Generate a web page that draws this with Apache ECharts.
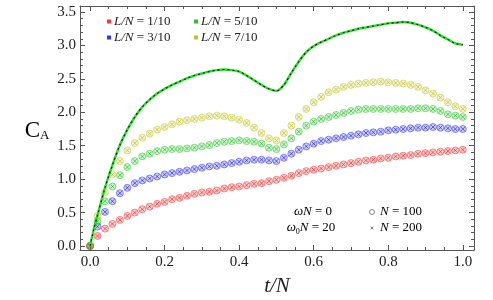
<!DOCTYPE html>
<html>
<head>
<meta charset="utf-8">
<script src="https://cdn.jsdelivr.net/npm/echarts@6/dist/echarts.min.js"></script>
<style>html,body{margin:0;padding:0;background:#fff;}#c{width:493px;height:300px;}</style>
</head>
<body>
<div id="c"></div>
<script>
// time axis t/N
var tValues = [0,0.02,0.04,0.06,0.08,0.10,0.12,0.14,0.16,0.18,0.20,0.22,0.24,0.26,0.28,0.30,0.32,0.34,0.36,0.38,0.40,0.42,0.44,0.46,0.48,0.50,0.52,0.54,0.56,0.58,0.60,0.62,0.64,0.66,0.68,0.70,0.72,0.74,0.76,0.78,0.80,0.82,0.84,0.86,0.88,0.90,0.92,0.94,0.96,0.98,1.00];
// C_A for L/N = 1/10, 3/10, 5/10, 7/10
var ln1 = [0,0.15,0.26,0.33,0.39,0.45,0.50,0.55,0.59,0.63,0.66,0.70,0.72,0.75,0.78,0.80,0.81,0.83,0.86,0.88,0.89,0.91,0.93,0.94,0.97,0.99,1.02,1.05,1.09,1.12,1.14,1.16,1.18,1.20,1.22,1.24,1.26,1.28,1.29,1.31,1.32,1.34,1.35,1.36,1.38,1.39,1.40,1.41,1.42,1.43,1.44];
var ln3 = [0,0.29,0.51,0.67,0.79,0.87,0.94,0.98,1.01,1.04,1.07,1.09,1.11,1.13,1.15,1.17,1.19,1.20,1.22,1.24,1.26,1.28,1.29,1.29,1.28,1.27,1.32,1.38,1.44,1.49,1.53,1.57,1.59,1.61,1.63,1.65,1.67,1.69,1.70,1.71,1.73,1.74,1.75,1.76,1.77,1.77,1.78,1.77,1.76,1.75,1.75];
var ln5 = [0,0.37,0.67,0.89,1.06,1.18,1.27,1.34,1.38,1.42,1.44,1.45,1.45,1.46,1.47,1.49,1.51,1.54,1.56,1.57,1.58,1.57,1.56,1.53,1.47,1.45,1.52,1.61,1.71,1.80,1.86,1.90,1.93,1.96,1.99,2.02,2.04,2.05,2.05,2.05,2.05,2.05,2.05,2.05,2.06,2.06,2.05,2.02,1.97,1.95,1.93];
var ln7 = [0,0.45,0.80,1.07,1.27,1.43,1.54,1.62,1.68,1.74,1.78,1.82,1.86,1.88,1.90,1.92,1.94,1.95,1.94,1.92,1.89,1.84,1.77,1.69,1.61,1.58,1.69,1.80,1.93,2.05,2.15,2.23,2.30,2.34,2.38,2.41,2.43,2.44,2.45,2.46,2.45,2.44,2.43,2.41,2.38,2.33,2.28,2.22,2.15,2.09,2.05];
// exact curve
var curveT = [0,0.01,0.02,0.04,0.06,0.08,0.10,0.12,0.14,0.16,0.18,0.20,0.22,0.24,0.26,0.28,0.30,0.32,0.34,0.36,0.38,0.40,0.42,0.44,0.46,0.48,0.50,0.52,0.54,0.56,0.58,0.60,0.62,0.64,0.66,0.68,0.70,0.72,0.74,0.76,0.78,0.80,0.82,0.84,0.86,0.88,0.90,0.92,0.94,0.96,0.98,1.00];
var curveV = [0,0.25,0.46,0.87,1.21,1.51,1.74,1.93,2.08,2.19,2.28,2.35,2.41,2.46,2.51,2.55,2.58,2.61,2.63,2.64,2.63,2.61,2.55,2.48,2.41,2.35,2.32,2.41,2.59,2.76,2.90,2.99,3.05,3.10,3.15,3.19,3.22,3.25,3.27,3.29,3.31,3.33,3.34,3.35,3.34,3.31,3.27,3.22,3.15,3.09,3.03,3.01];
var seriesNames = ['1/10','3/10','5/10','7/10'];
var xMajor = [0,0.2,0.4,0.6,0.8,1.0];
var xMinor = [0,0.05,0.1,0.15,0.2,0.25,0.3,0.35,0.4,0.45,0.5,0.55,0.6,0.65,0.7,0.75,0.8,0.85,0.9,0.95,1.0];
var yMajor = [0,0.5,1.0,1.5,2.0,2.5,3.0,3.5];
var yMinor = [0,0.1,0.2,0.3,0.4,0.5,0.6,0.7,0.8,0.9,1.0,1.1,1.2,1.3,1.4,1.5,1.6,1.7,1.8,1.9,2.0,2.1,2.2,2.3,2.4,2.5,2.6,2.7,2.8,2.9,3.0,3.1,3.2,3.3,3.4,3.5];

var rgb = [[255,0,0],[0,0,255],[0,185,0],[185,185,0]];
var legendCol = ['#ff0000','#0000ff','#00a800','#b0b000'];
var allVals = [ln1, ln3, ln5, ln7];
var FONT = 'Liberation Serif';
var frameCol = '#555';

function pairs(xs, ys){ return xs.map(function(x,i){ return [x, ys[i]]; }); }
function rgba(c,a){ return 'rgba('+c[0]+','+c[1]+','+c[2]+','+a+')'; }

var series = [];
allVals.forEach(function(vals, k){
  var name = 'L/N = ' + seriesNames[k];
  series.push({
    type:'scatter', name:name, data:pairs(tValues, vals), symbol:'circle', symbolSize:7,
    itemStyle:{color:rgba(rgb[k],0.22), borderColor:rgba(rgb[k],0.55), borderWidth:1},
    silent:true, z:2
  });
  series.push({
    type:'scatter', name:name, data:pairs(tValues, vals), symbol:'path://M0,0L10,10M10,0L0,10', symbolSize:4,
    itemStyle:{color:'rgba(0,0,0,0)', borderColor:rgba(rgb[k],0.75), borderWidth:1},
    silent:true, z:3
  });
});
series.push({type:'line', data:pairs(curveT, curveV), smooth:0.3, showSymbol:false, symbol:'none',
  lineStyle:{color:'#22e022', width:2.4}, silent:true, z:5});
series.push({type:'line', data:pairs(curveT, curveV), smooth:0.3, showSymbol:false, symbol:'none',
  lineStyle:{color:'#111', width:1.1, type:[2,3]}, silent:true, z:6});

function xAx(pos, vals, len, labels, line){
  return {type:'value', position:pos, min:-0.027, max:1.03, gridIndex:0,
    axisLine:{show:line, onZero:false, lineStyle:{color:frameCol, width:1}},
    axisTick:{show:true, inside:true, length:len, customValues:vals, lineStyle:{color:frameCol}},
    axisLabel:{show:labels, customValues:xMajor, margin:5, color:'#222', fontFamily:FONT, fontSize:15,
      formatter:function(v){return v.toFixed(1);}},
    splitLine:{show:false}};
}
function yAx(pos, vals, len, labels, line){
  return {type:'value', position:pos, min:-0.06, max:3.59, gridIndex:0,
    axisLine:{show:line, onZero:false, lineStyle:{color:frameCol, width:1}},
    axisTick:{show:true, inside:true, length:len, customValues:vals, lineStyle:{color:frameCol}},
    axisLabel:{show:labels, customValues:yMajor, margin:4, color:'#222', fontFamily:FONT, fontSize:15,
      formatter:function(v){return v.toFixed(1);}},
    splitLine:{show:false}};
}

var richL = {i:{fontStyle:'italic', fontFamily:FONT, fontSize:13, color:'#222'}, r:{fontFamily:FONT, fontSize:13, color:'#222'}};
function legendData(ks){
  return ks.map(function(k){ return {name:'L/N = '+seriesNames[k], itemStyle:{color:legendCol[k], borderWidth:0}}; });
}
function lg(left, ks){
  return {left:left, top:10, orient:'vertical', itemGap:3, itemWidth:4, itemHeight:4, icon:'rect',
    selectedMode:false, data:legendData(ks),
    formatter:function(n){ return '{i|L/N} {r|' + n.slice(4) + '}'; },
    textStyle:{fontFamily:FONT, fontSize:13, color:'#222', rich:richL, padding:[0,0,0,-2]}};
}

var tMain = {fontFamily:FONT, fontSize:13, fill:'#222'};
var chart = echarts.init(document.getElementById('c'), null, {renderer:'canvas'});
chart.setOption({
  animation:false,
  backgroundColor:'#fff',
  grid:{left:80, right:19, top:6, bottom:50},
  xAxis:[xAx('bottom', xMajor, 5, true, true), xAx('bottom', xMinor, 3, false, false),
         xAx('top', xMajor, 5, false, true), xAx('top', xMinor, 3, false, false)],
  yAxis:[yAx('left', yMajor, 5, true, true), yAx('left', yMinor, 3, false, false),
         yAx('right', yMajor, 5, false, true), yAx('right', yMinor, 3, false, false)],
  legend:[lg(102,[0,1]), lg(189,[2,3])],
  series:series,
  graphic:[
    {type:'text', style:{x:37, y:131, text:'{c|C}{s|A}', align:'center', verticalAlign:'middle',
      rich:{c:{fontFamily:FONT, fontSize:23, color:'#222', lineHeight:23, verticalAlign:'middle'},
            s:{fontFamily:FONT, fontSize:13, color:'#222', lineHeight:12, verticalAlign:'bottom'}}}},
    {type:'text', style:{x:277, y:286, text:'t/N', align:'center', verticalAlign:'middle',
      fontFamily:FONT, fontSize:21, fontStyle:'italic', fill:'#222'}},
    {type:'text', style:{x:313, y:212, text:'{i|ωN}{r| = 0}', align:'center', verticalAlign:'middle',
      rich:{i:{fontFamily:FONT, fontSize:13, fontStyle:'italic', color:'#222', lineHeight:16, verticalAlign:'middle'},
            r:{fontFamily:FONT, fontSize:13, color:'#222', lineHeight:16, verticalAlign:'middle'}}}},
    {type:'text', style:{x:311, y:228, text:'{i|ω}{s|0}{i|N}{r| = 20}', align:'center', verticalAlign:'middle',
      rich:{i:{fontFamily:FONT, fontSize:13, fontStyle:'italic', color:'#222', lineHeight:16, verticalAlign:'middle'},
            s:{fontFamily:FONT, fontSize:8, color:'#222', lineHeight:9, verticalAlign:'bottom'},
            r:{fontFamily:FONT, fontSize:13, color:'#222', lineHeight:16, verticalAlign:'middle'}}}},
    {type:'circle', shape:{cx:372, cy:212, r:2.5}, style:{fill:'none', stroke:'#666', lineWidth:0.8}},
    {type:'line', shape:{x1:370.5, y1:226.5, x2:373.5, y2:229.5}, style:{stroke:'#666', lineWidth:0.8}},
    {type:'line', shape:{x1:373.5, y1:226.5, x2:370.5, y2:229.5}, style:{stroke:'#666', lineWidth:0.8}},
    {type:'text', style:{x:380, y:212, text:'{i|N}{r| = 100}', align:'left', verticalAlign:'middle',
      rich:{i:{fontFamily:FONT, fontSize:13, fontStyle:'italic', color:'#222'}, r:{fontFamily:FONT, fontSize:13, color:'#222'}}}},
    {type:'text', style:{x:380, y:228, text:'{i|N}{r| = 200}', align:'left', verticalAlign:'middle',
      rich:{i:{fontFamily:FONT, fontSize:13, fontStyle:'italic', color:'#222'}, r:{fontFamily:FONT, fontSize:13, color:'#222'}}}}
  ]
});
</script>
</body>
</html>
